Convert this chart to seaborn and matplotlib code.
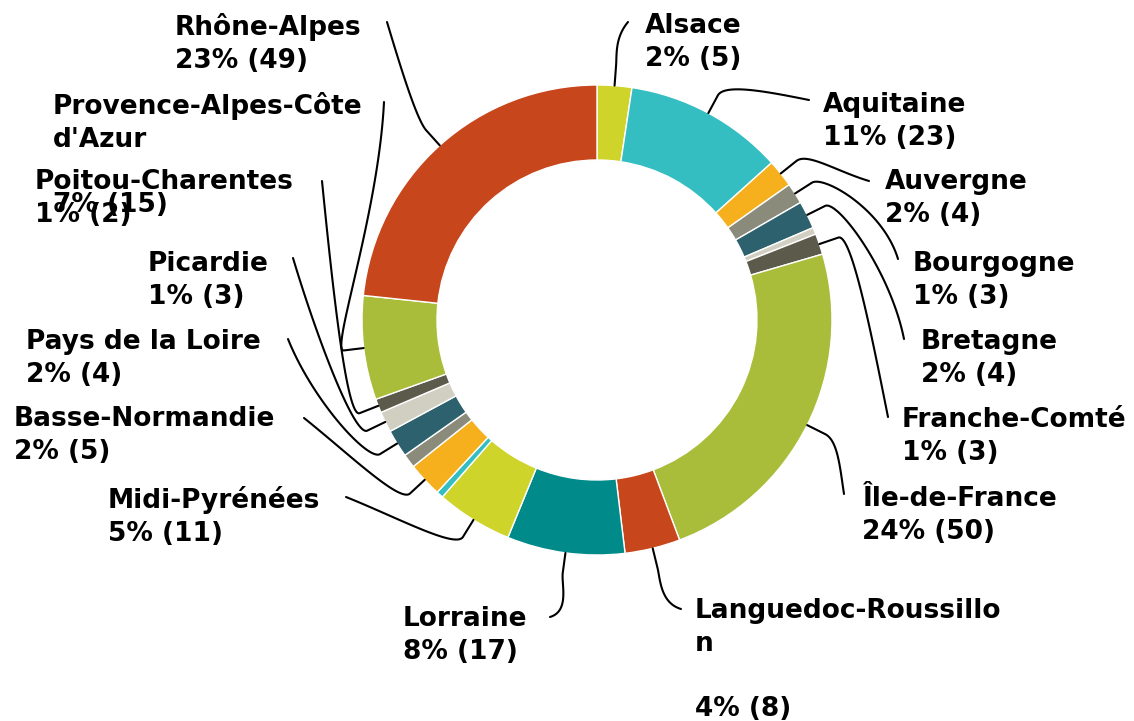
import numpy as np
import matplotlib
matplotlib.use("Agg")
import matplotlib.pyplot as plt
import seaborn as sns

sns.set_theme(style="white")
plt.rcParams['font.family'] = ['DejaVu Sans']

# data: regions in drawing order (clockwise from 12 o'clock)
regions = ["Alsace", "Aquitaine", "Auvergne", "Bourgogne", "Bretagne", "Centre",
           "Franche-Comté", "Île-de-France", "Languedoc-Roussillon", "Lorraine",
           "Midi-Pyrénées", "Nord-Pas-de-Calais", "Basse-Normandie", "Haute-Normandie",
           "Pays de la Loire", "Picardie", "Poitou-Charentes",
           "Provence-Alpes-Côte d'Azur", "Rhône-Alpes"]
counts = [5, 23, 4, 3, 4, 1, 3, 50, 8, 17, 11, 1, 5, 2, 4, 3, 2, 15, 49]
unlabeled = ["Centre", "Nord-Pas-de-Calais", "Haute-Normandie"]

palette = ["#cfd42a", "#35bec1", "#f6b01e", "#8a8b7a", "#2e616e",
           "#d1cfc2", "#5b5a4b", "#a9bd3a", "#c8461c", "#008a8a"]
colors = [palette[i % len(palette)] for i in range(len(regions))]

# how the long names wrap in the labels
wrapped = {"Languedoc-Roussillon": "Languedoc-Roussillo\nn\n",
           "Provence-Alpes-Côte d'Azur": "Provence-Alpes-Côte\nd'Azur\n"}

# label layout in pixels: text x, first line centre y, leader end x, end y, end direction
layout = {
    "Alsace": (645, 24, 628, 22, (1, -1.2)),
    "Aquitaine": (823, 103, 809, 100, (1, 0.2)),
    "Auvergne": (885, 180, 869, 181, (1, 0.3)),
    "Bourgogne": (913, 262, 898, 259, (0.3, 1)),
    "Bretagne": (921, 340, 904, 339, (0.2, 1)),
    "Franche-Comté": (902, 418, 888, 417, (0.2, 1)),
    "Île-de-France": (862, 497, 844, 494, (0.15, 1)),
    "Languedoc-Roussillon": (695, 609, 681, 609, (1, 0.3)),
    "Lorraine": (403, 617, 550, 617, (-1, 0.3)),
    "Midi-Pyrénées": (108, 497, 346, 497, (-1, -0.4)),
    "Basse-Normandie": (14, 417, 304, 418, (-1, -0.8)),
    "Pays de la Loire": (26, 340, 288, 339, (-0.4, -1)),
    "Picardie": (148, 262, 293, 258, (-0.3, -1)),
    "Poitou-Charentes": (35, 180, 322, 181, (-0.1, -1)),
    "Provence-Alpes-Côte d'Azur": (53, 103, 384, 102, (0.05, -1)),
    "Rhône-Alpes": (175, 24, 387, 22, (-0.3, -1)),
}

W, H = 1134, 721
cx, cy, R, ring = 597, 320, 235, 75

fig = plt.figure(figsize=(W / 100, H / 100), dpi=100)
ax = fig.add_axes([0, 0, 1, 1])

# y axis is flipped (pixel coords), so startangle 270 + counterclock = clockwise from top
ax.pie(counts, colors=colors, startangle=270, counterclock=True,
       center=(cx, cy), radius=R,
       wedgeprops=dict(width=ring, edgecolor="white", linewidth=1))

ax.set_xlim(0, W)
ax.set_ylim(H, 0)
ax.set_aspect("equal")
ax.axis("off")

total = sum(counts)
cum = np.cumsum(counts)
mids = (cum - np.array(counts) / 2) / total * 360

for name, n, phi in zip(regions, counts, mids):
    if name in unlabeled:
        continue
    tx, ty, ex, ey, edir = layout[name]
    pct = round(100 * n / total)
    text = wrapped.get(name, name) + "\n" + f"{pct}% ({n})"
    ax.text(tx, ty - 11, text, fontsize=19, fontweight="bold", color="black",
            ha="left", va="top", linespacing=1.33)

    # leader: short radial stub, then a cubic curve to the label
    a = np.deg2rad(phi)
    u = np.array([np.sin(a), -np.cos(a)])
    p0 = np.array([cx, cy]) + R * u
    p1 = p0 + 20 * u
    p3 = np.array([ex, ey], dtype=float)
    d = np.linalg.norm(p3 - p1)
    e = np.array(edir, dtype=float)
    e = e / np.linalg.norm(e)
    c1 = p1 + u * min(0.25 * d, 14)
    c2 = p3 - e * 0.45 * d
    t = np.linspace(0, 1, 80)[:, None]
    bez = (1 - t) ** 3 * p1 + 3 * (1 - t) ** 2 * t * c1 + 3 * (1 - t) * t ** 2 * c2 + t ** 3 * p3
    pts = np.vstack([p0, bez])
    ax.plot(pts[:, 0], pts[:, 1], color="black", lw=1.5, solid_capstyle="round")

fig.savefig("out.png", dpi=100)
